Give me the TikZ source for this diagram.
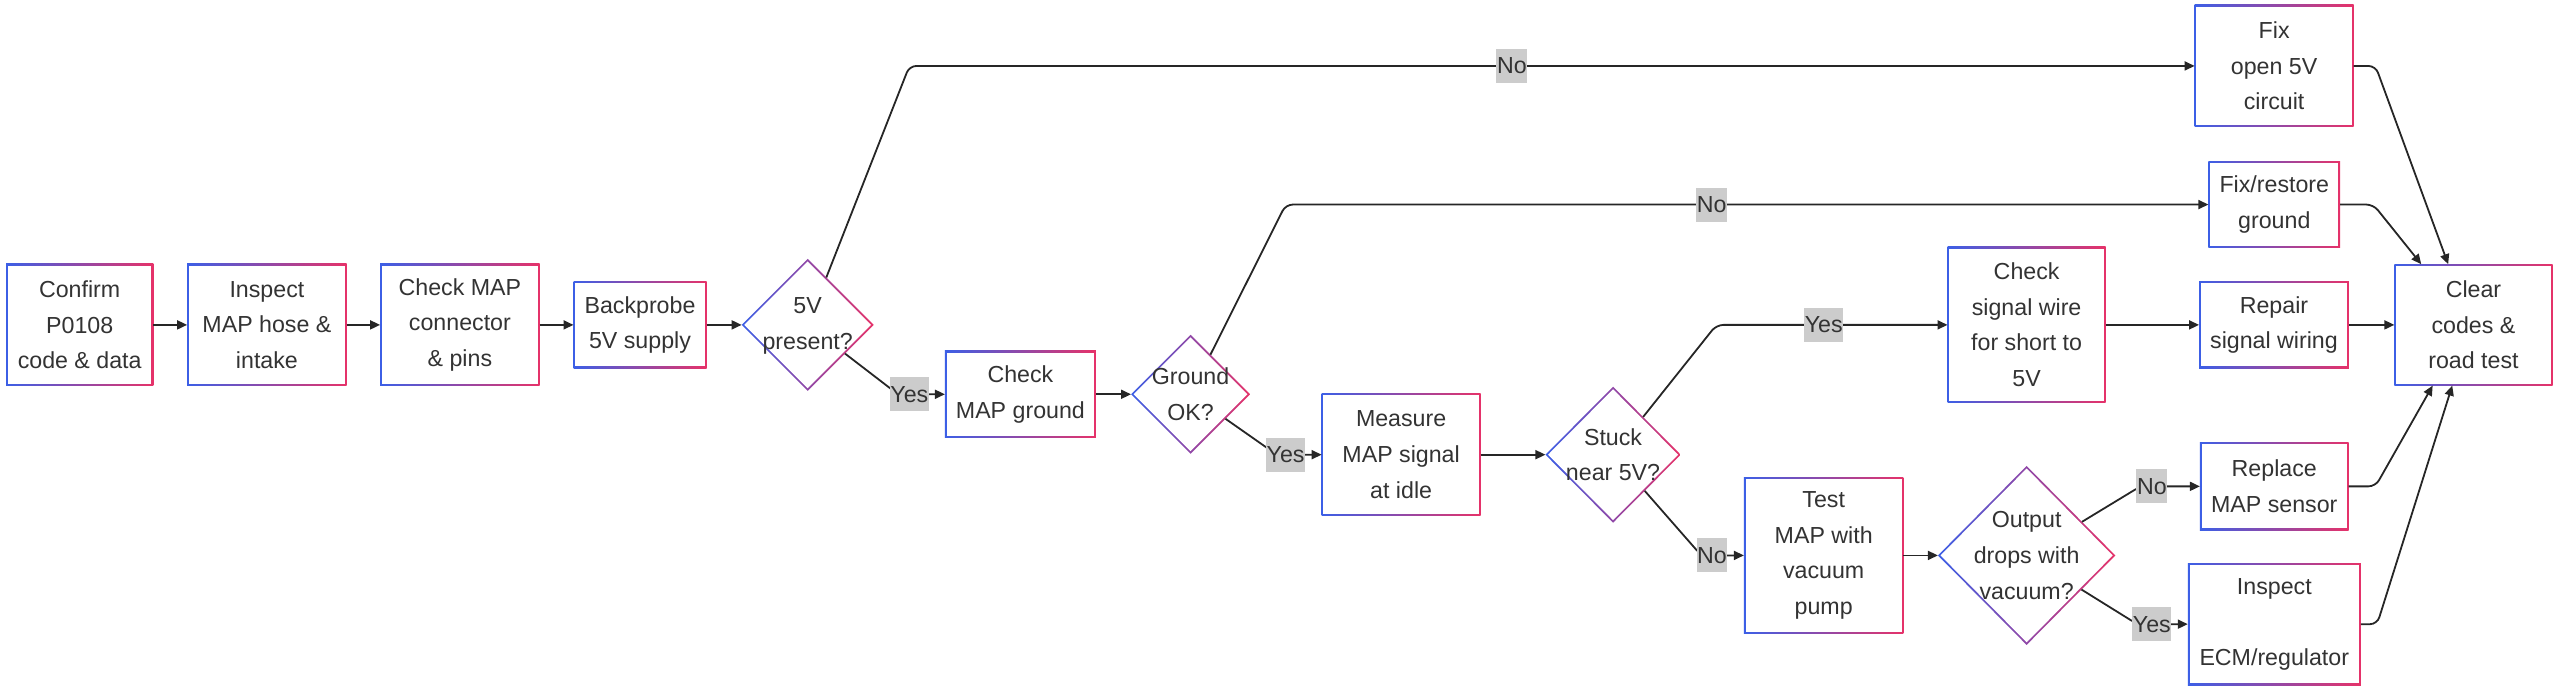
\documentclass[tikz,border=0pt]{standalone}
\usepackage{fontspec}
\setmainfont{Liberation Sans}
\usetikzlibrary{shapes.geometric,arrows.meta,calc}
\definecolor{gblue}{RGB}{60,95,230}
\definecolor{gpink}{RGB}{230,50,105}
\definecolor{txtc}{RGB}{51,51,51}
\definecolor{lblbg}{RGB}{204,204,204}
\newcommand\nodefont{\fontsize{11.6}{17.8}\selectfont}
\begin{document}
\begin{tikzpicture}[x=0.8163pt, y=-0.8163pt,
  box/.style={rectangle, inner sep=0pt, outer sep=0pt, align=center, fill=white,
    font=\nodefont, text=txtc,
    path picture={
      \shade[left color=gblue, right color=gpink] (path picture bounding box.south west) rectangle (path picture bounding box.north east);
      \fill[white] ([shift={(0.9pt,0.9pt)}]path picture bounding box.south west) rectangle ([shift={(-0.9pt,-0.9pt)}]path picture bounding box.north east);
    }},
  dia/.style={diamond, inner sep=0pt, outer sep=0pt, fill=white,
    path picture={
      \shade[left color=gblue, right color=gpink] (path picture bounding box.south west) rectangle (path picture bounding box.north east);
      \fill[white] ([xshift=1.3pt]path picture bounding box.west) -- ([yshift=-1.3pt]path picture bounding box.north) -- ([xshift=-1.3pt]path picture bounding box.east) -- ([yshift=1.3pt]path picture bounding box.south) -- cycle;
    }},
  dtext/.style={inner sep=0pt, align=center, font=\nodefont, text=txtc},
  arr/.style={draw=black!85, line width=0.9pt, rounded corners=3.5pt, -{Triangle[length=5pt,width=4.5pt]}},
  lbl/.style={fill=lblbg, inner xsep=0.3pt, inner ysep=0pt, minimum height=17pt, font=\nodefont, text=txtc}
]
\useasboundingbox (0,0) rectangle (1568,423);

% process boxes
\node[box, minimum width=73.6pt, minimum height=61pt] (confirm) at (48.8,199) {Confirm\\P0108\\code \& data};
\node[box, minimum width=79.8pt, minimum height=61pt] (inspect) at (163.5,199) {Inspect\\MAP hose \&\\intake};
\node[box, minimum width=79.8pt, minimum height=61pt] (chkmap) at (281.7,199) {Check MAP\\connector\\\& pins};
\node[box, minimum width=66.5pt, minimum height=43.3pt] (backp) at (392,199) {Backprobe\\5V supply};
\node[dia, minimum width=66pt, minimum height=66pt] (d5v) at (494.7,199) {};
\node[dtext] (d5vt) at (494.7,199.5) {5V\\present?};
\node[box, minimum width=75.5pt, minimum height=43.3pt] (chkgnd) at (625,241.5) {Check\\MAP ground};
\node[dia, minimum width=59.5pt, minimum height=59.5pt] (dgnd) at (729.2,241.5) {};
\node[dtext] (dgndt) at (729.2,241.5) {Ground\\OK?};
\node[box, minimum width=79.5pt, minimum height=61pt] (measure) at (858.2,278.5) {Measure\\MAP signal\\at idle};
\node[dia, minimum width=67.6pt, minimum height=68pt] (dstuck) at (988,278.5) {};
\node[dtext] (dstuckt) at (988,278.5) {Stuck\\near 5V?};
\node[box, minimum width=79.1pt, minimum height=78.1pt] (chksig) at (1241.3,199) {Check\\signal wire\\for short to\\5V};
\node[box, minimum width=74.9pt, minimum height=43.3pt] (repair) at (1392.8,199) {Repair\\signal wiring};
\node[box, minimum width=79.1pt, minimum height=60.7pt] (clear) at (1515,199) {Clear\\codes \&\\road test};
\node[box, minimum width=79.5pt, minimum height=61pt] (fix5v) at (1392.9,40.4) {Fix\\open 5V\\circuit};
\node[box, minimum width=65.9pt, minimum height=43.3pt] (fixgnd) at (1393,125.3) {Fix/restore\\ground};
\node[box, minimum width=79.8pt, minimum height=78.4pt] (test) at (1117,340.2) {Test\\MAP with\\vacuum\\pump};
\node[dia, minimum width=88.7pt, minimum height=89.5pt] (dout) at (1241.3,340.2) {};
\node[dtext] (doutt) at (1241.3,340.2) {Output\\drops with\\vacuum?};
\node[box, minimum width=74.4pt, minimum height=43.7pt] (replace) at (1393,297.9) {Replace\\MAP sensor};
\node[box, minimum width=86.5pt, minimum height=60.9pt] (inspecm) at (1393,382.3) {Inspect\\\mbox{}\\ECM/regulator};

% bend points
\coordinate (c5vno) at (557,40.4);
\coordinate (c5vyes) at (550,241.5);
\coordinate (cgno) at (787.5,125.3);
\coordinate (cgyes) at (782,278.5);
\coordinate (csyes) at (1051.3,199);
\coordinate (csno) at (1042,340.2);
\coordinate (cono) at (1311,297.9);
\coordinate (coyes) at (1309,382.3);
\coordinate (cf1) at (1455,40.4);
\coordinate (cf2) at (1453.7,125.3);
\coordinate (cf3) at (1455,297.9);
\coordinate (cf4) at (1456,382.3);
\coordinate (t1) at ($(clear.north)+(-15.5,0)$);
\coordinate (t2) at ($(clear.north)+(-32,0)$);
\coordinate (t3) at ($(clear.south)+(-25,0)$);
\coordinate (t4) at ($(clear.south)+(-13,0)$);

% connectors
\draw[arr] (confirm) -- (inspect);
\draw[arr] (inspect) -- (chkmap);
\draw[arr] (chkmap) -- (backp);
\draw[arr] (backp) -- (d5v);
\draw[arr] (d5v) -- (c5vno) -- (fix5v);
\draw[arr] (d5v) -- (c5vyes) -- (chkgnd);
\draw[arr] (chkgnd) -- (dgnd);
\draw[arr] (dgnd) -- (cgno) -- (fixgnd);
\draw[arr] (dgnd) -- (cgyes) -- (measure);
\draw[arr] (measure) -- (dstuck);
\draw[arr] (dstuck) -- (csyes) -- (chksig);
\draw[arr] (dstuck) -- (csno) -- (test);
\draw[arr] (chksig) -- (repair);
\draw[arr] (repair) -- (clear);
\draw[arr] (test) -- (dout);
\draw[arr] (dout) -- (cono) -- (replace);
\draw[arr] (dout) -- (coyes) -- (inspecm);
\draw[arr] (fix5v) -- (cf1) -- (t1);
\draw[arr] (fixgnd) -- (cf2) -- (t2);
\draw[arr] (replace) -- (cf3) -- (t3);
\draw[arr] (inspecm) -- (cf4) -- (t4);

% edge labels
\node[lbl] (l1) at (926,40.4) {No};
\node[lbl] (l2) at (557,241.5) {Yes};
\node[lbl] (l3) at (1048.4,125.3) {No};
\node[lbl] (l4) at (787.4,278.5) {Yes};
\node[lbl] (l5) at (1117,199) {Yes};
\node[lbl] (l6) at (1048.6,340.2) {No};
\node[lbl] (l7) at (1318,297.9) {No};
\node[lbl] (l8) at (1318,382.3) {Yes};
\end{tikzpicture}
\end{document}
